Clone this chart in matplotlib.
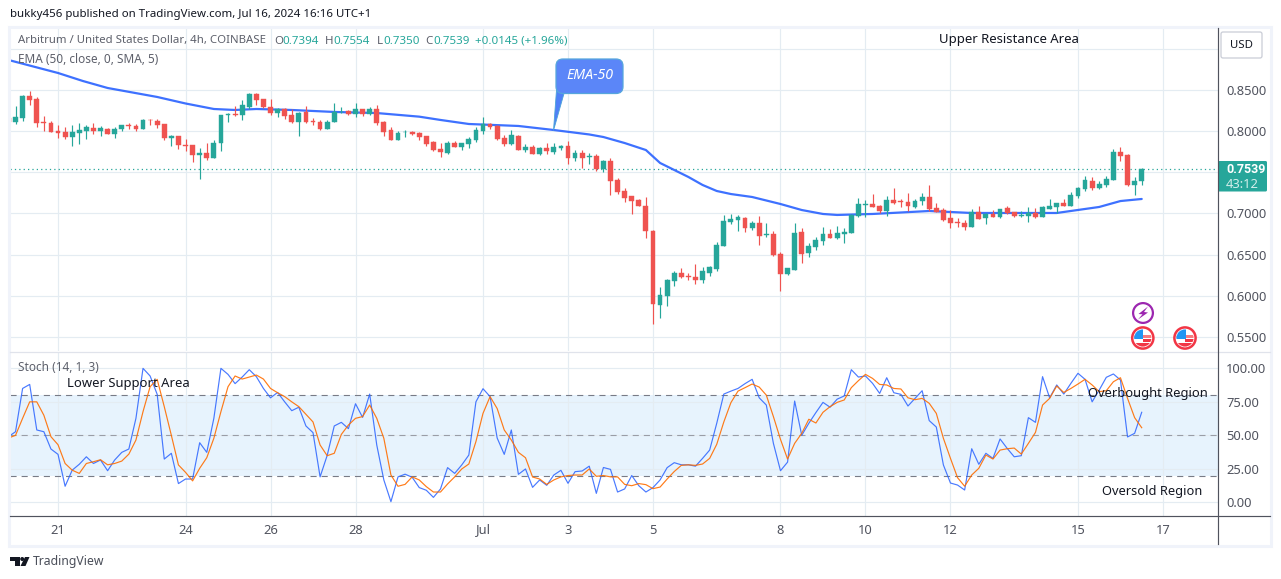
#!/usr/bin/python
# ARB/USD 4h chart with EMA and stochastic panes
import numpy as np
import matplotlib
matplotlib.use('Agg')
import matplotlib.pyplot as plt
from matplotlib.patches import Rectangle, Circle, FancyBboxPatch, Polygon

plt.rcParams['font.family'] = ['Noto Sans', 'DejaVu Sans']

W, H = 1281, 579

# first candle is bar -7, bar 0 falls on the 21st
first_bar = -7

opens = [.8162, .8113, .8162, .8425, .8388, .8109, .8097,
         .8000, .7988, .7931, .7980, .8004, .8036, .8004, .8020, .7963, .8028,
         .8073, .8060, .8028, .8137, .8121, .8085, .7919, .7939, .7830, .7830,
         .7713, .7733, .7672, .7858, .8198, .8206, .8194, .8291, .8449, .8388,
         .8291, .8218, .8267, .8194, .8109, .8230, .8121, .8109, .8024, .8109,
         .8226, .8242, .8206, .8267, .8206, .8267, .8109, .8012, .7891, .7984,
         .7988, .7975, .7939, .7866, .7782, .7733, .7855, .7806, .7842, .7891,
         .8000, .8085, .8061, .7915, .7842, .7940, .7770, .7806, .7721, .7794,
         .7745, .7794, .7818, .7673, .7733, .7685, .7697, .7539, .7636, .7406,
         .7272, .7211, .7163, .7090, .6787, .5888, .5998, .6180, .6277, .6240,
         .6228, .6192, .6277, .6325, .6604, .6896, .6920, .6944, .6823, .6884,
         .6738, .6750, .6507, .6265, .6313, .6774, .6519, .6592, .6665, .6750,
         .6702, .6750, .6762, .6968, .7106, .7114, .7090, .7029, .7163, .7151,
         .7139, .7078, .7151, .7199, .7066, .7042, .6944, .6896, .6884, .6835,
         .7017, .6944, .6993, .6957, .7066, .7017, .6969, .6969, .7005, .6957,
         .7054, .7078, .7126, .7090, .7211, .7296, .7393, .7309, .7345, .7406,
         .7745, .7709, .7345, .7394]

highs = [.8170, .8303, .8437, .8485, .8408, .8182, .8121,
         .8073, .8048, .8073, .8101, .8073, .8097, .8060, .8036, .8044, .8073,
         .8097, .8085, .8145, .8145, .8145, .8085, .7951, .7939, .7903, .7830,
         .7793, .7854, .7891, .8194, .8222, .8303, .8376, .8461, .8461, .8388,
         .8388, .8279, .8275, .8267, .8230, .8303, .8158, .8133, .8133, .8340,
         .8291, .8255, .8340, .8267, .8291, .8315, .8121, .8048, .8000, .8012,
         .8000, .7988, .7939, .7878, .7855, .7879, .7879, .7855, .7927, .8049,
         .8170, .8097, .8073, .7952, .8012, .7952, .7842, .7830, .7806, .7855,
         .7855, .7830, .7879, .7770, .7770, .7733, .7721, .7648, .7673, .7430,
         .7308, .7211, .7175, .7199, .6799, .6107, .6204, .6301, .6337, .6277,
         .6386, .6350, .6362, .6653, .6981, .6993, .6981, .6956, .6908, .6968,
         .6884, .6786, .6532, .6337, .6884, .6823, .6641, .6714, .6835, .6811,
         .6847, .6823, .6993, .7187, .7163, .7236, .7102, .7211, .7309, .7175,
         .7248, .7175, .7248, .7345, .7126, .7066, .7042, .6944, .6920, .7054,
         .7090, .7005, .7042, .7054, .7090, .7017, .7029, .7078, .7066, .7090,
         .7175, .7126, .7175, .7260, .7321, .7454, .7442, .7393, .7454, .7782,
         .7806, .7721, .7442, .7554]

lows = [.8109, .8089, .8125, .8319, .8052, .8004, .7988,
        .7915, .7907, .7822, .7846, .7907, .7963, .7943, .7963, .7919, .8004,
        .8028, .8004, .8028, .8073, .8036, .7891, .7822, .7785, .7761, .7624,
        .7417, .7652, .7672, .7761, .8113, .8178, .8133, .8263, .8319, .8279,
        .8194, .8170, .8145, .8097, .7939, .8097, .8073, .8012, .8024, .8109,
        .8218, .8194, .8170, .8182, .8194, .8073, .7939, .7891, .7891, .7927,
        .7951, .7891, .7818, .7757, .7685, .7721, .7806, .7770, .7794, .7867,
        .7964, .8024, .7891, .7818, .7830, .7770, .7745, .7721, .7709, .7721,
        .7721, .7770, .7600, .7636, .7551, .7600, .7515, .7503, .7224, .7236,
        .7139, .6993, .7090, .6702, .5658, .5731, .5876, .6119, .6216, .6192,
        .6143, .6155, .6240, .6301, .6604, .6871, .6786, .6774, .6799, .6617,
        .6714, .6483, .6058, .6253, .6313, .6398, .6471, .6556, .6617, .6702,
        .6689, .6641, .6762, .6956, .6957, .7078, .7005, .6969, .7114, .7078,
        .7029, .7066, .7102, .7029, .7017, .6908, .6823, .6835, .6799, .6835,
        .6932, .6872, .6957, .6944, .6993, .6957, .6957, .6896, .6944, .6957,
        .7054, .7005, .7090, .7090, .7187, .7272, .7284, .7296, .7321, .7406,
        .7636, .7333, .7224, .7350]

closes = [.8113, .8170, .8425, .8380, .8101, .8101, .7992,
          .7980, .7931, .7988, .8012, .8048, .8004, .8036, .7963, .8020, .8073,
          .8065, .8028, .8133, .8129, .8073, .7915, .7939, .7834, .7822, .7713,
          .7733, .7672, .7854, .8194, .8206, .8190, .8315, .8449, .8380, .8291,
          .8218, .8267, .8182, .8109, .8218, .8109, .8113, .8024, .8109, .8230,
          .8234, .8206, .8267, .8206, .8267, .8097, .7988, .7891, .7975, .7992,
          .7963, .7927, .7842, .7769, .7749, .7855, .7806, .7855, .7903, .8012,
          .8089, .8049, .7903, .7842, .7952, .7770, .7806, .7721, .7794, .7757,
          .7806, .7818, .7673, .7733, .7673, .7697, .7539, .7636, .7393, .7260,
          .7187, .7151, .7090, .6787, .5901, .6010, .6192, .6277, .6228, .6232,
          .6192, .6301, .6350, .6617, .6908, .6932, .6956, .6823, .6884, .6726,
          .6750, .6495, .6265, .6337, .6762, .6507, .6604, .6677, .6750, .6702,
          .6762, .6774, .6981, .7114, .7114, .7078, .7029, .7163, .7126, .7143,
          .7090, .7151, .7199, .7054, .7017, .6920, .6884, .6888, .6835, .7017,
          .6932, .6993, .6957, .7054, .7005, .6969, .6981, .7005, .6957, .7078,
          .7090, .7126, .7090, .7224, .7309, .7406, .7309, .7357, .7418, .7745,
          .7697, .7345, .7393, .7539]

ema_bars = [-7, 0, 3.5, 7, 14, 18, 22, 25, 28, 33, 39, 45, 51, 54, 58, 65, 70, 75, 77, 80, 83,
            85, 87, 89, 91, 93, 95, 98, 102, 105, 108, 110, 115, 123, 129, 141, 147, 150, 153]
ema_vals = [.8862, .8704, .8607, .8522, .8413, .8334, .8267, .8255, .8267, .8255, .8231, .8218,
            .8174, .8134, .8085, .8061, .8012, .7958, .7927, .7854, .7769, .7612, .7527, .7442, .7345,
            .7272, .7235, .7199, .7114, .7041, .6993, .6981, .6993, .7029, .7005, .7005, .7078,
            .7150, .7175]

stoch_k = [49, 52.7, 85, 88, 54, 52.7, 39.8,
           35.8, 12, 24, 28.4, 34, 29, 31.6, 23.6, 31.6, 37.3,
           39.8, 62.7, 100, 94.3, 80.6, 32.3, 36.6, 14, 17.4, 17.4,
           44.5, 37.3, 62.7, 100, 95.5, 88.6, 93.5, 99, 93.8, 85,
           78, 82, 75, 68.4, 71, 57, 52, 19, 35, 57,
           59.7, 55, 73.6, 63.4, 80.8, 42.8, 16.7, 0.5, 19, 21,
           18.7, 11, 9, 3.7, 10, 25.9, 21.6, 27.9, 35.3, 75,
           84.8, 78.9, 48, 35.8, 54, 20.9, 24.9, 11.2, 16.7, 12.7,
           20.4, 23.9, 14.2, 22.9, 23.4, 27, 6.7, 26, 24.6, 7.7,
           10, 20, 12.4, 7.7, 11, 16.7, 25.9, 29.6, 28, 28,
           27, 32.8, 39, 59, 80.8, 83, 85, 88.6, 91.8, 78,
           72.6, 44, 23.6, 30, 75.6, 50, 59, 67, 74.6, 71,
           77, 79.4, 99, 93.5, 94.3, 88.8, 81.3, 93, 81.8, 80.6,
           71.9, 77.6, 83.3, 61, 56.2, 27.9, 14.4, 12.9, 9.2, 40,
           28.4, 36.6, 32.8, 47.3, 40.3, 34, 34.8, 63.2, 59.7, 93.8,
           78, 87.6, 80.8, 88.8, 96.3, 91.8, 75, 83.8, 93.3, 95.8,
           91.3, 48.8, 51.5, 67.2]

stoch_d = [48, 50, 62.7, 75, 75, 65, 49,
           43, 29, 24, 21.6, 29, 30.3, 31.8, 28, 29, 30.8,
           36, 46.5, 67.7, 86.3, 91.8, 71.4, 50, 27.9, 22.4, 16,
           25.4, 33.3, 47.8, 67.7, 86.3, 94.3, 92, 93.5, 95, 92,
           85, 81.8, 78.9, 75, 71.4, 65.7, 60, 42.8, 34.8, 36.6,
           50.7, 57.7, 62.7, 64, 72.6, 62.7, 47.8, 20.4, 12, 13.4,
           19, 16.7, 11.7, 7.7, 7.7, 13.7, 19, 24.9, 28.6, 45.3,
           66.4, 78.9, 70, 54, 46.5, 37.3, 33.3, 18.9, 17.4, 13.4,
           16.7, 19, 20, 20.4, 20.4, 24.9, 19.4, 20, 19, 19,
           13.4, 12.4, 14, 13.2, 10.2, 11.4, 17.4, 23, 27.6, 28,
           27.6, 28.6, 32.8, 43.3, 60, 74.4, 83, 85.6, 88.3, 86,
           80, 64, 47, 32.3, 44, 51.5, 62, 59.2, 67.2, 71.4,
           74.6, 76.4, 85.6, 90.8, 95.5, 92.5, 88, 87.6, 85, 84.6,
           78, 76.6, 77.6, 73.9, 66.4, 47.8, 32.8, 18.4, 12, 20.4,
           25.4, 35.3, 32.3, 39, 40, 40.5, 36, 44, 52.2, 72.6,
           77.6, 86.8, 82, 85, 88.3, 91.8, 87.6, 82.6, 83.3, 90,
           93, 77.6, 63.2, 55.7]

price_ticks = [0.55, 0.60, 0.65, 0.70, 0.75, 0.80, 0.85, 0.90]
price_labels = ['0.5500', '0.6000', '0.6500', '0.7000', '', '0.8000', '0.8500', '']
stoch_ticks = [0, 25, 50, 75, 100]
stoch_labels = ['0.00', '25.00', '50.00', '75.00', '100.00']
date_bars = [0, 18, 30, 42, 60, 72, 84, 102, 114, 126, 144, 156]
date_labels = ['21', '24', '26', '28', 'Jul', '3', '5', '8', '10', '12', '15', '17']

GREEN = '#26a69a'
RED = '#ef5350'
GRID = '#e4ecf2'
AXTEXT = '#50535e'
LEGTEXT = '#5d606b'


def px_axes(x0, y0, x1, y1):
    return fig.add_axes([x0 / W, 1 - y1 / H, (x1 - x0) / W, (y1 - y0) / H])


fig = plt.figure(figsize=(W / 100, H / 100), dpi=100, facecolor='white')

ax = px_axes(10, 28, 1217.5, 351)
ax2 = px_axes(10, 352, 1217.5, 516)

bars = np.arange(first_bar, first_bar + len(closes))
xlim = (-6.78, 163.7)

# price pane
o = np.array(opens)
c = np.array(closes)
up = c >= o
colors = [GREEN if u else RED for u in up]
ax.plot(ema_bars, ema_vals, color='#2962ff', lw=1.6, zorder=3, alpha=0.9, solid_capstyle='round')
ax.vlines(bars, lows, highs, colors=colors, lw=0.85, zorder=4)
ax.bar(bars, np.abs(c - o), bottom=np.minimum(o, c), width=0.68, color=colors,
       edgecolor=colors, linewidth=0.3, zorder=5)
ax.axhline(closes[-1], color=GREEN, lw=0.9, ls=(0, (1, 2.5)), zorder=2)
ax.set_ylim(0.533, 0.925)
ax.set_yticks(price_ticks)
ax.set_yticklabels(price_labels)

# stochastic pane
ax2.axhspan(20, 80, color='#e3f2fd', lw=0, alpha=0.85, zorder=0)
for lev, col in [(80, '#787b86'), (20, '#787b86'), (50, '#9a9da6')]:
    ax2.axhline(lev, color=col, lw=0.8, ls=(0, (5.5, 4.5)), zorder=2)
ax2.plot(bars, stoch_k, color='#2962ff', lw=0.85, alpha=0.85, zorder=3)
ax2.plot(bars, stoch_d, color='#ff6d00', lw=0.85, alpha=0.9, zorder=4)
ax2.set_ylim(-10.2, 112.2)
ax2.set_yticks(stoch_ticks)
ax2.set_yticklabels(stoch_labels)

for a in (ax, ax2):
    a.set_xlim(xlim)
    a.set_xticks(date_bars)
    a.yaxis.tick_right()
    a.grid(True, color=GRID, lw=0.85, zorder=0)
    a.set_axisbelow(True)
    a.tick_params(axis='both', length=0, labelcolor=AXTEXT, labelsize=9.3)
    a.tick_params(axis='y', pad=6.2)
    for s in a.spines.values():
        s.set_visible(False)
ax.tick_params(axis='x', labelbottom=False)
ax2.set_xticklabels(date_labels)
ax2.tick_params(axis='x', pad=5.4)

# everything around the panes, in figure pixels
ov = fig.add_axes([0, 0, 1, 1], zorder=10)
ov.set_xlim(0, W)
ov.set_ylim(H, 0)
ov.axis('off')
ov.patch.set_alpha(0)

ov.add_patch(Rectangle((9, 26.5), 1262, 519, fill=False, ec='#f0f3fa', lw=2.2))
ov.plot([10, 1270], [351.5, 351.5], color='#e0e3eb', lw=0.9)
ov.plot([10, 1270], [516, 516], color='#50535e', lw=0.85)
ov.plot([1217.5, 1217.5], [28, 544], color='#50535e', lw=0.85)

ov.text(10, 14, 'bukky456 published on TradingView.com, Jul 16, 2024 16:16 UTC+1',
        fontsize=8.25, color='#131722', va='center')

ov.text(18, 41, 'Arbitrum / United States Dollar, 4h, COINBASE', fontsize=8.2, color=LEGTEXT, va='center')
for x, s, col in [(274, 'O', LEGTEXT), (282, '0.7394', GREEN), (325, 'H', LEGTEXT), (333, '0.7554', GREEN),
                  (377, 'L', LEGTEXT), (383, '0.7350', GREEN), (425, 'C', LEGTEXT), (433, '0.7539', GREEN),
                  (475, '+0.0145 (+1.96%)', GREEN)]:
    ov.text(x, 41, s, fontsize=8.3, color=col, va='center')
ov.text(18, 59.5, 'EMA (50, close, 0, SMA, 5)', fontsize=8.5, color=LEGTEXT, va='center')
ov.text(18, 367.5, 'Stoch (14, 1, 3)', fontsize=8.5, color=LEGTEXT, va='center')

for x, y, s, fs in [(939, 39, 'Upper Resistance Area', 9.5), (67, 383, 'Lower Support Area', 9.4),
                    (1088, 393, 'Overbought Region', 9.3), (1102, 491, 'Oversold Region', 9.25)]:
    ov.text(x, y, s, fontsize=fs, color='#131722', va='center')

# EMA-50 callout
ov.add_patch(Polygon([(553.5, 130.5), (556.5, 90), (565, 90)], fc='#4f80f7', ec='#4aa3d8', lw=0.6))
ov.add_patch(FancyBboxPatch((561, 64), 57, 24.5, boxstyle='round,pad=5,rounding_size=7',
                            fc='#5b86f8', ec='#56a6dc', lw=0.9))
ov.text(589.5, 75.5, 'EMA-50', fontsize=10.2, color='white', style='italic', weight='semibold',
        ha='center', va='center')

# USD box and last price label
ov.add_patch(FancyBboxPatch((1223, 34), 37, 22, boxstyle='round,pad=2,rounding_size=2',
                            fc='white', ec='#c9ccd6', lw=0.9))
ov.text(1241.5, 45, 'USD', fontsize=8.2, color='#131722', ha='center', va='center')
ov.add_patch(FancyBboxPatch((1218, 161), 49, 30.5, boxstyle='round,pad=0,rounding_size=1.5',
                            fc=GREEN, ec=GREEN, lw=0))
ov.text(1226, 169.5, '0.7539', fontsize=9.0, color='white', family='Roboto', weight='bold', va='center')
ov.text(1226, 184, '43:12', fontsize=9.3, color='#d4eeeb', va='center')

# event markers
ov.add_patch(Circle((1143, 313), 9.9, fc='white', ec='#9c27b0', lw=1.6))
ov.add_patch(Polygon([(1148, 306.5), (1138.5, 314), (1142.5, 314.3), (1138, 319.5),
                      (1148, 312.5), (1144, 312)], fc='#9c27b0', ec='none'))
for cx in (1142.8, 1185):
    ring = Circle((cx, 338), 10.6, fc='white', ec='#f23645', lw=1.8)
    ov.add_patch(ring)
    inner = Circle((cx, 338), 8.6, transform=ov.transData)
    for r in [Rectangle((cx - 9, 335.3), 18, 2.6, fc='#f77c80', ec='none'),
              Rectangle((cx, 339), 9, 3.2, fc='#f23645', ec='none'),
              Rectangle((cx - 9, 342.5), 18, 4.5, fc='#f23645', ec='none'),
              Rectangle((cx - 9, 329), 9.5, 9.5, fc='#2196f3', ec='none')]:
        ov.add_patch(r)
        r.set_clip_path(inner)

# footer logo
ov.add_patch(Polygon([(10, 557), (19.5, 557), (19.5, 566), (15, 566), (15, 561), (10, 561)], fc='#131722', ec='none'))
ov.add_patch(Circle((22.2, 559), 2, fc='#131722', ec='none'))
ov.add_patch(Polygon([(25, 557), (29.5, 557), (25.5, 566), (20.5, 566)], fc='#131722', ec='none'))
ov.text(33, 561.5, 'TradingView', fontsize=8.8, color='#4a4e59', va='center')

fig.savefig('out.png', dpi=100)
